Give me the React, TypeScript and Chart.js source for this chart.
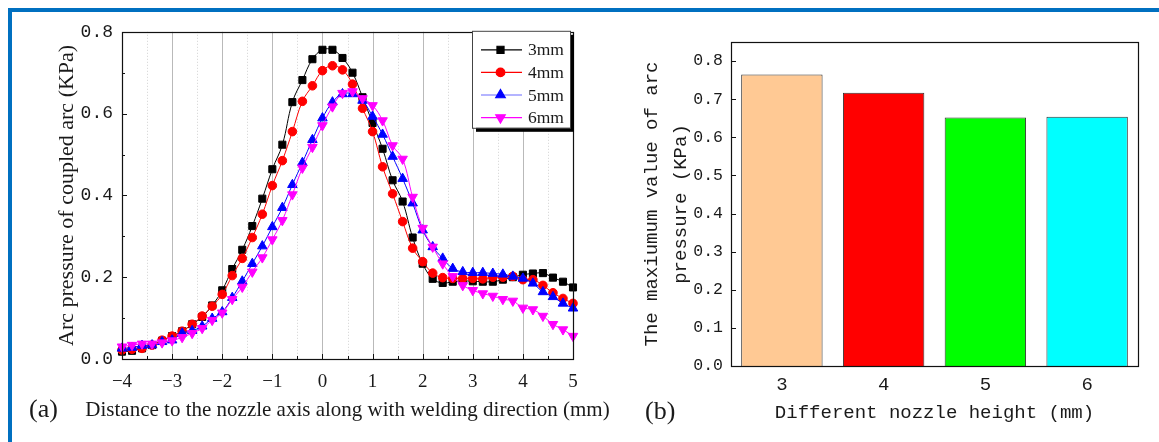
import React, { useEffect, useRef } from 'react';
import { Chart, registerables } from 'chart.js';
import { drawPoint } from 'chart.js/helpers';

Chart.register(...registerables);

// ---------- data ----------
const xPositions = [
  -4, -3.8, -3.6, -3.4, -3.2, -3, -2.8, -2.6, -2.4, -2.2,
  -2, -1.8, -1.6, -1.4, -1.2, -1, -0.8, -0.6, -0.4, -0.2,
  0, 0.2, 0.4, 0.6, 0.8, 1, 1.2, 1.4, 1.6, 1.8,
  2, 2.2, 2.4, 2.6, 2.8, 3, 3.2, 3.4, 3.6, 3.8,
  4, 4.2, 4.4, 4.6, 4.8, 5,
];
const series3mm = [
  0.018, 0.02, 0.026, 0.034, 0.045, 0.056, 0.068, 0.085, 0.103, 0.131,
  0.168, 0.22, 0.267, 0.325, 0.392, 0.464, 0.524, 0.628, 0.682, 0.733,
  0.756, 0.756, 0.736, 0.7, 0.64, 0.577, 0.514, 0.437, 0.385, 0.297,
  0.233, 0.196, 0.186, 0.189, 0.191, 0.19, 0.189, 0.189, 0.194, 0.2,
  0.206, 0.209, 0.21, 0.199, 0.189, 0.175,
];
const series4mm = [
  0.022, 0.024, 0.026, 0.034, 0.046, 0.056, 0.068, 0.085, 0.105, 0.129,
  0.158, 0.204, 0.246, 0.297, 0.354, 0.424, 0.485, 0.556, 0.63, 0.668,
  0.705, 0.717, 0.707, 0.672, 0.613, 0.556, 0.47, 0.404, 0.336, 0.271,
  0.238, 0.21, 0.199, 0.197, 0.197, 0.197, 0.196, 0.2, 0.2, 0.202,
  0.194, 0.194, 0.18, 0.162, 0.148, 0.136,
];
const series5mm = [
  0.026, 0.028, 0.033, 0.034, 0.042, 0.046, 0.063, 0.069, 0.08, 0.099,
  0.115, 0.15, 0.19, 0.233, 0.276, 0.323, 0.37, 0.426, 0.48, 0.536,
  0.589, 0.628, 0.648, 0.648, 0.632, 0.593, 0.549, 0.495, 0.441, 0.381,
  0.315, 0.274, 0.246, 0.221, 0.213, 0.211, 0.211, 0.209, 0.207, 0.202,
  0.197, 0.185, 0.164, 0.152, 0.136, 0.124,
];
const series6mm = [
  0.03, 0.034, 0.037, 0.037, 0.04, 0.045, 0.053, 0.063, 0.075, 0.095,
  0.113, 0.146, 0.176, 0.213, 0.248, 0.292, 0.339, 0.402, 0.467, 0.518,
  0.571, 0.617, 0.65, 0.654, 0.637, 0.62, 0.583, 0.522, 0.489, 0.396,
  0.32, 0.274, 0.233, 0.202, 0.18, 0.168, 0.16, 0.154, 0.146, 0.142,
  0.125, 0.121, 0.105, 0.085, 0.072, 0.056,
];
const seriesLabels = ['3mm', '4mm', '5mm', '6mm'];

const barCategories = ['3', '4', '5', '6'];
const barValues = [0.765, 0.717, 0.652, 0.654];

const lineYTitle = 'Arc pressure of coupled arc (KPa)';
const lineXTitle = 'Distance to the nozzle axis along with welding direction (mm)';
const lineCaption = '(a)';
const barYTitle = ['The maxiumum value of arc', 'pressure (KPa)'];
const barXTitle = 'Different nozzle height (mm)';
const barCaption = '(b)';

// ---------- styles ----------
const SERIF = '"Liberation Serif", "Times New Roman", serif';
const MONO = '"Liberation Mono", "Courier New", monospace';
const TEXT = '#1a1a1a';
const seriesColors = ['#000000', '#ff0000', '#0000ff', '#ff00ff'];
const legendLineColors = ['#000000', '#ff0000', '#6b6bff', '#ff00ff'];
const seriesPointStyles = ['rect', 'circle', 'triangle', 'triangle'];
const seriesPointRotation = [0, 0, 0, 180];
const seriesPointRadius = [5, 4.3, 5.5, 5.5];
const barColors = ['#ffc994', '#ff0000', '#00ff00', '#00ffff'];

const decorPlugin = {
  id: 'decor',
  beforeDatasetsDraw(chart: any, _args: any, opts: any) {
    if (!opts || !opts.vgrid) return;
    const { ctx, chartArea: a } = chart;
    const xs = chart.scales.x;
    ctx.save();
    xs.ticks.forEach((t: any) => {
      const v = t.value;
      if (v <= xs.min + 1e-9 || v >= xs.max - 1e-9) return;
      const px = Math.round(xs.getPixelForValue(v)) + 0.5;
      const major = Math.abs(v - Math.round(v)) < 1e-6;
      ctx.beginPath();
      ctx.strokeStyle = major ? '#b9b9b9' : '#d2d2d2';
      ctx.lineWidth = 1;
      ctx.setLineDash(major ? [] : [1, 2]);
      ctx.moveTo(px, a.top);
      ctx.lineTo(px, a.bottom);
      ctx.stroke();
    });
    ctx.restore();
  },
  afterDatasetsDraw(chart: any, _args: any, opts: any) {
    if (!opts) return;
    const { ctx, chartArea: a } = chart;
    ctx.save();
    ctx.setLineDash([]);
    // inward ticks on y
    const ys = chart.scales.y;
    ctx.strokeStyle = '#111';
    ctx.lineWidth = 1;
    ys.ticks.forEach((t: any) => {
      const py = Math.round(ys.getPixelForValue(t.value)) + 0.5;
      const len = t.label !== '' ? 5 : 3;
      ctx.beginPath();
      ctx.moveTo(a.left, py);
      ctx.lineTo(a.left + len, py);
      ctx.stroke();
    });
    if (opts.xTicks) {
      const xs = chart.scales.x;
      xs.ticks.forEach((t: any) => {
        const px = Math.round(xs.getPixelForValue(t.value)) + 0.5;
        const len = t.label !== '' ? 5 : 3;
        ctx.beginPath();
        ctx.moveTo(px, a.bottom);
        ctx.lineTo(px, a.bottom - len);
        ctx.stroke();
      });
    }
    // frame
    ctx.strokeStyle = '#111';
    ctx.lineWidth = 1.2;
    ctx.strokeRect(Math.round(a.left) + 0.5, Math.round(a.top) + 0.5,
      Math.round(a.right - a.left), Math.round(a.bottom - a.top));

    // legend
    if (opts.legend) {
      const boxW = 98, boxH = 97;
      const boxL = a.right - 3 - boxW;
      const boxT = a.top - 1;
      ctx.fillStyle = '#000';
      ctx.fillRect(boxL + 4, boxT + 4, boxW, boxH);
      ctx.fillStyle = '#fff';
      ctx.fillRect(boxL, boxT, boxW, boxH);
      ctx.strokeStyle = '#444';
      ctx.lineWidth = 1;
      ctx.strokeRect(boxL + 0.5, boxT + 0.5, boxW, boxH);
      chart.data.datasets.forEach((ds: any, i: number) => {
        const y = boxT + 19 + i * 22.6;
        ctx.strokeStyle = legendLineColors[i];
        ctx.lineWidth = 1.2;
        ctx.beginPath();
        ctx.moveTo(boxL + 9, y);
        ctx.lineTo(boxL + 50, y);
        ctx.stroke();
        ctx.strokeStyle = ds.borderColor;
        ctx.fillStyle = ds.borderColor;
        drawPoint(ctx, {
          pointStyle: ds.pointStyle,
          rotation: ds.pointRotation || 0,
          radius: ds.pointRadius,
          borderWidth: 1,
        } as any, boxL + 28.5, y);
        ctx.fillStyle = TEXT;
        ctx.font = `17.5px ${SERIF}`;
        ctx.textAlign = 'left';
        ctx.textBaseline = 'middle';
        ctx.fillText(ds.label, boxL + 56, y + 1);
      });
    }
    // captions
    if (opts.xCaption) {
      ctx.fillStyle = TEXT;
      ctx.font = `21px ${SERIF}`;
      ctx.textAlign = 'center';
      ctx.textBaseline = 'middle';
      ctx.fillText(opts.xCaption, (a.left + a.right) / 2, a.bottom + 51);
    }
    if (opts.tag) {
      ctx.fillStyle = TEXT;
      ctx.font = `26px ${SERIF}`;
      ctx.textAlign = 'left';
      ctx.textBaseline = 'middle';
      ctx.fillText(opts.tag, a.left + opts.tagDx, a.bottom + opts.tagDy);
    }
    ctx.restore();
  },
};

function LineChart() {
  const ref = useRef<HTMLCanvasElement>(null);
  useEffect(() => {
    const all = [series3mm, series4mm, series5mm, series6mm];
    const chart = new Chart(ref.current as HTMLCanvasElement, {
      type: 'line',
      data: {
        datasets: all.map((s, i) => ({
          label: seriesLabels[i],
          data: xPositions.map((x, j) => ({ x, y: s[j] })),
          borderColor: seriesColors[i],
          backgroundColor: seriesColors[i],
          pointBackgroundColor: seriesColors[i],
          pointBorderColor: seriesColors[i],
          pointStyle: seriesPointStyles[i],
          pointRotation: seriesPointRotation[i],
          pointRadius: seriesPointRadius[i],
          pointBorderWidth: 1,
          borderWidth: 1,
          tension: 0.4,
          order: 4 - i,
          clip: 8,
        })) as any,
      },
      options: {
        responsive: false,
        animation: false,
        layout: { padding: { top: 19, right: 62, left: 0, bottom: 0 } },
        plugins: {
          legend: { display: false },
          tooltip: { enabled: false },
          decor: { vgrid: true, xTicks: true, legend: true, xCaption: lineXTitle, tag: lineCaption, tagDx: -93, tagDy: 51 },
        } as any,
        scales: {
          x: {
            type: 'linear',
            min: -4,
            max: 5,
            grid: { display: false, drawTicks: false },
            border: { display: false },
            ticks: {
              stepSize: 0.5,
              autoSkip: false,
              maxRotation: 0,
              padding: 12,
              color: TEXT,
              font: { family: SERIF, size: 19 },
              callback: (v: any) => {
                const n = Number(v);
                if (Math.abs(n - Math.round(n)) > 1e-6) return '';
                const r = Math.round(n);
                return r < 0 ? '\u2212' + Math.abs(r) : String(r);
              },
            },
            afterFit: (s: any) => { s.height = 83; },
          },
          y: {
            min: 0,
            max: 0.8,
            grid: { display: false, drawTicks: false },
            border: { display: false },
            ticks: {
              stepSize: 0.1,
              padding: 9,
              color: TEXT,
              font: { family: MONO, size: 18 },
              callback: (v: any) => (Math.round(Number(v) * 10) % 2 === 0 ? Number(v).toFixed(1) : ''),
            },
            title: {
              display: true,
              text: lineYTitle,
              color: TEXT,
              font: { family: SERIF, size: 22 },
              padding: { top: 42, bottom: 0 },
            },
            afterFit: (s: any) => { s.width = 110; },
          },
        },
      } as any,
      plugins: [decorPlugin as any],
    });
    return () => chart.destroy();
  }, []);
  return (
    <canvas
      ref={ref}
      width={623}
      height={430}
      style={{ position: 'absolute', left: 12, top: 12, width: 623, height: 430 }}
    />
  );
}

function BarChart() {
  const ref = useRef<HTMLCanvasElement>(null);
  useEffect(() => {
    const chart = new Chart(ref.current as HTMLCanvasElement, {
      type: 'bar',
      data: {
        labels: barCategories,
        datasets: [{
          data: barValues,
          backgroundColor: barColors,
          borderColor: '#333',
          borderWidth: 1,
          borderSkipped: 'start',
          barPercentage: 0.8,
          categoryPercentage: 1,
        }],
      },
      options: {
        responsive: false,
        animation: false,
        layout: { padding: { top: 30, right: 21, left: 0, bottom: 0 } },
        plugins: {
          legend: { display: false },
          tooltip: { enabled: false },
          decor: { tag: barCaption, tagDx: -86, tagDy: 46 },
        } as any,
        scales: {
          x: {
            grid: { display: false, drawTicks: false },
            border: { display: false },
            ticks: { padding: 8, color: TEXT, font: { family: MONO, size: 19 } },
            title: {
              display: true,
              text: barXTitle,
              color: TEXT,
              font: { family: MONO, size: 19 },
              padding: { top: 0, bottom: 18 },
            },
            afterFit: (s: any) => { s.height = 76; },
          },
          y: {
            min: 0,
            max: 0.85,
            grid: { display: false, drawTicks: false },
            border: { display: false },
            ticks: {
              stepSize: 0.05,
              padding: 8,
              color: TEXT,
              font: { family: MONO, size: 16.5 },
              callback: (v: any) => (Math.round(Number(v) * 100) % 10 === 0 ? Number(v).toFixed(1) : ''),
            },
            title: {
              display: true,
              text: barYTitle,
              color: TEXT,
              font: { family: MONO, size: 19, lineHeight: 1.56 },
              padding: { top: 2, bottom: 0 },
            },
            afterFit: (s: any) => { s.width = 96; },
          },
        },
      } as any,
      plugins: [decorPlugin as any],
    });
    return () => chart.destroy();
  }, []);
  return (
    <canvas
      ref={ref}
      width={524}
      height={430}
      style={{ position: 'absolute', left: 635, top: 12, width: 524, height: 430 }}
    />
  );
}

export default function App() {
  return (
    <div style={{ position: 'absolute', left: 0, top: 0, width: 1159, height: 442, background: '#fff', overflow: 'hidden' }}>
      <div style={{ position: 'absolute', left: 8, top: 8, width: 1151, height: 4, background: '#0070c0' }} />
      <div style={{ position: 'absolute', left: 8, top: 8, width: 4, height: 434, background: '#0070c0' }} />
      <LineChart />
      <BarChart />
    </div>
  );
}
